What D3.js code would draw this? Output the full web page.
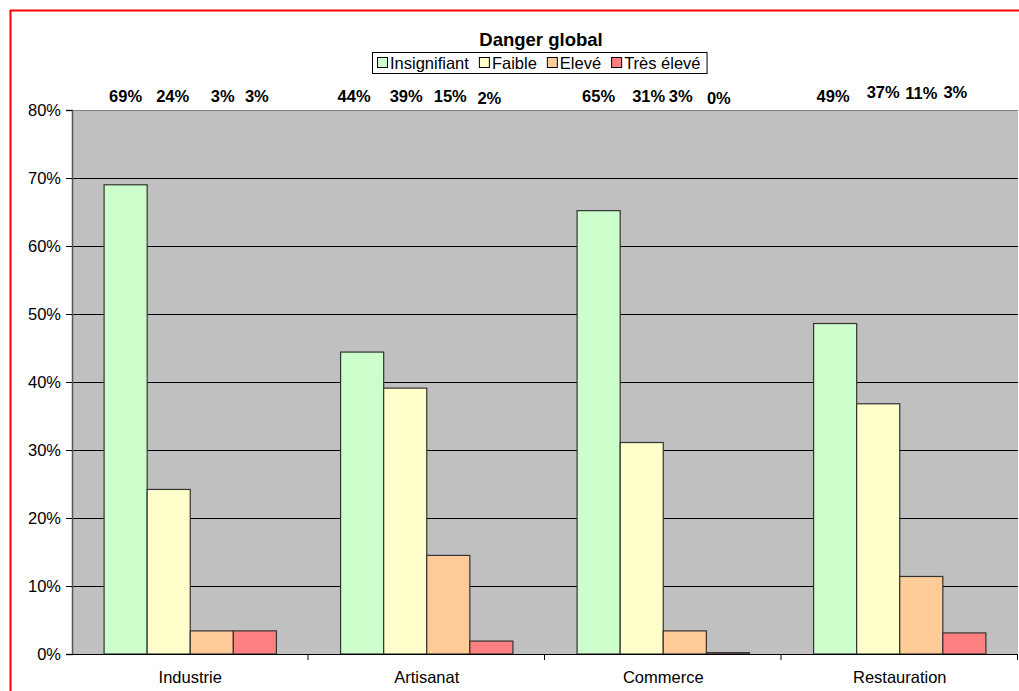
<!DOCTYPE html>
<html>
<head>
<meta charset="utf-8">
<script src="https://cdn.jsdelivr.net/npm/d3@7"></script>
<style>
  html, body { margin: 0; padding: 0; background: #fff; }
  svg { display: block; font-family: "Liberation Sans", Arial, sans-serif; }
</style>
</head>
<body>
<svg id="chart" width="1019" height="691"></svg>
<script>
// Categories and series
const categories = ["Industrie", "Artisanat", "Commerce", "Restauration"];
const seriesNames = ["Insignifiant", "Faible", "Elevé", "Très élevé"];
const insignifiant = [69.0, 44.4, 65.2, 48.6];
const faible = [24.2, 39.1, 31.1, 36.8];
const eleve = [3.4, 14.5, 3.4, 11.4];
const tresEleve = [3.4, 1.9, 0.2, 3.1];
const yTicks = [0, 10, 20, 30, 40, 50, 60, 70, 80];

const seriesValues = [insignifiant, faible, eleve, tresEleve];
const colors = ["#CCFFCC", "#FFFFCC", "#FFCC99", "#FF8080"];

const svg = d3.select("#chart");
const W = 1019, H = 691;
const plot = { left: 72, right: 1018, top: 110, bottom: 654 };
const FS = 16.5;

// Outer frame
svg.append("rect")
  .attr("x", 10.5).attr("y", 10.5)
  .attr("width", W + 10).attr("height", H + 10)
  .attr("fill", "#fff").attr("stroke", "#FF0000").attr("stroke-width", 2);

const x0 = d3.scaleBand().domain(categories)
  .range([plot.left, plot.right]).paddingInner(0).paddingOuter(0);
const x1 = d3.scaleBand().domain(seriesNames)
  .range([0, x0.bandwidth()]).paddingInner(0).paddingOuter(0.745);
const y = d3.scaleLinear().domain([0, 80]).range([plot.bottom, plot.top]);

// Plot background
svg.append("rect")
  .attr("x", plot.left).attr("y", plot.top)
  .attr("width", plot.right - plot.left).attr("height", plot.bottom - plot.top)
  .attr("fill", "#C0C0C0");

// Gridlines
svg.append("g").selectAll("line").data(yTicks.filter(d => d > 0)).join("line")
  .attr("x1", plot.left).attr("x2", plot.right)
  .attr("y1", d => Math.round(y(d)) + 0.5).attr("y2", d => Math.round(y(d)) + 0.5)
  .attr("stroke", d => d === 80 ? "#808080" : "#000").attr("stroke-width", 1);

// Bars
const rows = [];
categories.forEach((c, i) => {
  seriesNames.forEach((s, j) => rows.push({ cat: c, ser: s, j, v: seriesValues[j][i] }));
});

svg.append("g").selectAll("rect").data(rows).join("rect")
  .attr("x", d => x0(d.cat) + x1(d.ser))
  .attr("y", d => y(d.v))
  .attr("width", x1.bandwidth())
  .attr("height", d => y(0) - y(d.v))
  .attr("fill", d => colors[d.j])
  .attr("stroke", "#333").attr("stroke-width", 1.2);

// Y axis
const yAxis = d3.axisLeft(y).tickValues(yTicks).tickFormat(d => d + "%").tickSize(6).tickPadding(5);
const gy = svg.append("g").attr("transform", `translate(${plot.left},0)`).call(yAxis);
gy.select(".domain").attr("stroke", "#555").attr("stroke-width", 1.5);
gy.selectAll(".tick line").attr("stroke", "#000");
gy.selectAll(".tick text").attr("font-size", FS).attr("fill", "#000")
  .attr("font-family", "'Liberation Sans', Arial, sans-serif");

// X axis with ticks between categories
const xAxisG = svg.append("g");
xAxisG.append("line")
  .attr("x1", plot.left).attr("x2", plot.right)
  .attr("y1", plot.bottom + 0.5).attr("y2", plot.bottom + 0.5)
  .attr("stroke", "#000");
const boundaries = categories.map(c => x0(c)).concat([plot.right]);
xAxisG.selectAll("line.t").data(boundaries.slice(1)).join("line").attr("class", "t")
  .attr("x1", d => d - 0.5).attr("x2", d => d - 0.5)
  .attr("y1", plot.bottom).attr("y2", plot.bottom + 6)
  .attr("stroke", "#000");
xAxisG.selectAll("text").data(categories).join("text")
  .attr("x", d => x0(d) + x0.bandwidth() / 2)
  .attr("y", plot.bottom + 29)
  .attr("text-anchor", "middle")
  .attr("font-size", FS)
  .text(d => d);

// Value labels above the plot (hand-placed nudges per label)
const nudges = [
  [[0, 0], [4, 0], [11, 0], [2, 0]],
  [[-8, 0], [1, 0], [2, 0], [-2, 2]],
  [[0, 0], [7, 0], [-4, 0], [-9, 2]],
  [[-2, 0], [5, -4], [0, -3], [-9, -4]]
];
const fmt = v => Math.round(v) + "%";
svg.append("g").selectAll("text").data(rows).join("text")
  .attr("x", (d, k) => x0(d.cat) + x1(d.ser) + x1.bandwidth() / 2 + nudges[Math.floor(k / 4)][d.j][0])
  .attr("y", (d, k) => 102 + nudges[Math.floor(k / 4)][d.j][1])
  .attr("text-anchor", "middle")
  .attr("font-size", FS).attr("font-weight", "bold")
  .text(d => fmt(d.v));

// Title
svg.append("text")
  .attr("x", 541).attr("y", 46)
  .attr("text-anchor", "middle")
  .attr("font-size", 18.5).attr("font-weight", "bold")
  .text("Danger global");

// Legend
const legend = svg.append("g");
const legendBox = legend.append("rect")
  .attr("y", 52.5).attr("height", 21)
  .attr("fill", "#fff").attr("stroke", "#000");
let lx = 377;
seriesNames.forEach((s, j) => {
  legend.append("rect")
    .attr("x", lx + 0.5).attr("y", 57.5).attr("width", 10).attr("height", 10)
    .attr("fill", colors[j]).attr("stroke", "#000");
  const t = legend.append("text")
    .attr("x", lx + 13).attr("y", 69)
    .attr("font-size", FS)
    .text(s);
  lx += 13 + t.node().getComputedTextLength() + 10;
});
legendBox.attr("x", 372.5).attr("width", lx - 372 - 4);
</script>
</body>
</html>
